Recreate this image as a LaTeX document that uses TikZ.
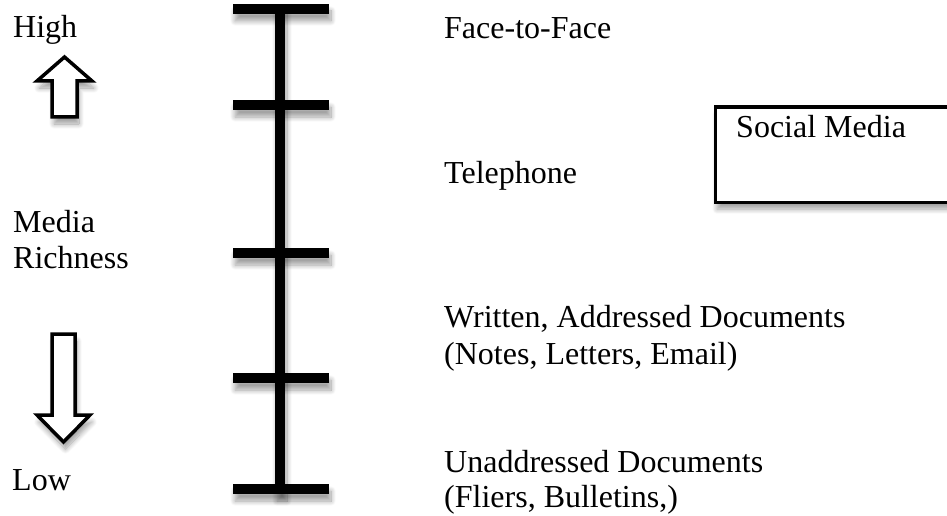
\documentclass[tikz,border=0pt]{standalone}
\usepackage{fontspec}
\setmainfont{Liberation Serif}
\usetikzlibrary{shadows.blur}
\begin{document}
\begin{tikzpicture}[x=1pt,y=-1pt,
  softshadow/.style={blur shadow={shadow xshift=2pt,shadow yshift=-7pt,shadow opacity=38,shadow blur radius=5pt,shadow blur steps=12}},
  bar/.style={fill=black,draw=none,softshadow},
  label/.style={anchor=base west,inner sep=0pt,font=\fontsize{32}{36}\selectfont},
  hollowarrow/.style={draw=black,fill=white,line width=3.5pt,line join=miter,softshadow},
  mediabox/.style={draw=black,fill=white,line width=3.2pt,inner sep=0pt,anchor=north west,softshadow}]
\useasboundingbox (0,0) rectangle (947,516);
\clip (0,0) rectangle (947,516);

% richness scale: vertical spine with five cross ticks
\path[bar] (275,4) rectangle (285,494);
\foreach \y/\n in {9/t1,105/t2,253/t3,378/t4,489/t5}{
  \path[bar] (233,\y-5) rectangle (329,\y+5);
  \coordinate (\n) at (281,\y);
}

% hollow arrows on the left
\draw[hollowarrow] (64.5,57) -- (92,81) -- (77,81) -- (77,117) -- (52,117) -- (52,81) -- (37,81) -- cycle;
\draw[hollowarrow] (63.5,442) -- (90,415) -- (75,415) -- (75,334) -- (52,334) -- (52,415) -- (37,415) -- cycle;

% left axis labels
\node[label] (high) at (13,38) {High};
\node[label] (media) at (13,232) {Media};
\node[label] (rich) at (13,268) {Richness};
\node[label] (low) at (12,490) {Low};

% channels, from richest to leanest
\node[label] (f2f) at (444,39) {Face-to-Face};
\node[label] (tel) at (444,183) {Telephone};
\node[label] (wr1) at (444,327) {Written, Addressed Documents};
\node[label] (wr2) at (444,364) {(Notes, Letters, Email)};
\node[label] (un1) at (444,472) {Unaddressed Documents};
\node[label] (un2) at (444,507) {(Fliers, Bulletins,)};

% social media box
\node[mediabox,minimum width=260pt,minimum height=95pt] (smbox) at (713.5,105.5) {};
\node[label] (sm) at (736,137) {Social Media};
\end{tikzpicture}
\end{document}
